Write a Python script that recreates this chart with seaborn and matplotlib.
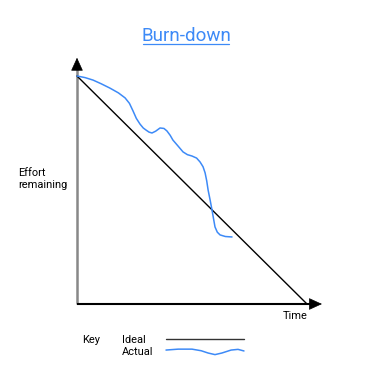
import matplotlib
matplotlib.use("Agg")
import matplotlib.pyplot as plt
import seaborn as sns
import pandas as pd

sns.set_theme(style="white")
plt.rcParams['font.family'] = ['Roboto', 'DejaVu Sans']

# --- data ---
ideal_time = [0, 10]
ideal_effort = [10, 0]

actual_time = [0.0, 0.35, 0.70, 1.05, 1.43, 1.80, 2.09, 2.28, 2.43, 2.58, 2.74, 2.88, 3.0,
               3.13, 3.26, 3.42, 3.61, 3.78, 3.91, 4.05, 4.17, 4.40, 4.61, 4.80, 5.0,
               5.20, 5.35, 5.48, 5.57, 5.64, 5.70, 5.79, 5.87, 5.94, 6.0, 6.10, 6.22,
               6.45, 6.74]
actual_effort = [10.0, 9.93, 9.82, 9.66, 9.47, 9.26, 9.04, 8.80, 8.48, 8.14, 7.89, 7.72, 7.63,
                 7.54, 7.50, 7.58, 7.72, 7.70, 7.59, 7.40, 7.19, 6.92, 6.67, 6.55, 6.49,
                 6.40, 6.23, 6.02, 5.75, 5.40, 5.0, 4.55, 4.12, 3.72, 3.38, 3.15, 3.03,
                 2.96, 2.94]

key_ideal_x = [3.87, 7.26]
key_ideal_y = [-1.53, -1.53]
key_actual_x = [3.87, 4.40, 5.0, 5.40, 5.70, 6.0, 6.30, 6.70, 7.0, 7.26]
key_actual_y = [-2.02, -1.98, -1.98, -2.05, -2.15, -2.22, -2.15, -2.02, -1.99, -2.06]

title = "Burn-down"
y_label = "Effort\nremaining"
x_label = "Time"

BLUE = "#3d8af7"

W, H = 367, 382
fig = plt.figure(figsize=(W / 100, H / 100), dpi=100)
ax = fig.add_axes([77 / W, (H - 304) / H, 230 / W, 228 / H])
ax.set_xlim(0, 10)
ax.set_ylim(0, 10)
for s in ax.spines.values():
    s.set_visible(False)
ax.set_xticks([])
ax.set_yticks([])
ax.set_facecolor("white")
fig.patch.set_facecolor("white")

# axes: grey vertical line, black horizontal
ax.plot([0, 0], [0, 10.40], color="#888888", lw=1.8, clip_on=False, solid_capstyle="butt")
ax.plot([0, 10.25], [0, 0], color="black", lw=1.5, clip_on=False, solid_capstyle="butt")
ax.annotate("", xy=(0, 10.80), xytext=(0, 10.38), xycoords="data",
            arrowprops=dict(arrowstyle="-|>,head_length=0.7,head_width=0.32", color="black", lw=0.5,
                            shrinkA=0, shrinkB=0), annotation_clip=False)
ax.annotate("", xy=(10.65, 0), xytext=(10.2, 0), xycoords="data",
            arrowprops=dict(arrowstyle="-|>,head_length=0.7,head_width=0.32", color="black", lw=0.5,
                            shrinkA=0, shrinkB=0), annotation_clip=False)

ideal_df = pd.DataFrame({"t": ideal_time, "e": ideal_effort})
actual_df = pd.DataFrame({"t": actual_time, "e": actual_effort})
sns.lineplot(data=ideal_df, x="t", y="e", ax=ax, color="black", linewidth=1.0, sort=False, clip_on=False)
sns.lineplot(data=actual_df, x="t", y="e", ax=ax, color=BLUE, linewidth=1.1, sort=False, clip_on=False)

# labels
fig.text(186 / W, 1 - 36 / H, title, ha="center", va="center", fontsize=13.5, color=BLUE)
fig.add_artist(plt.Line2D([143 / W, 229 / W], [1 - 43.5 / H, 1 - 43.5 / H], color=BLUE, lw=0.9))
fig.text(18 / W, 1 - 179 / H, y_label, ha="left", va="center", fontsize=7.9, color="black", linespacing=1.15)
fig.text(295 / W, 1 - 316 / H, x_label, ha="center", va="center", fontsize=7.9, color="black")
fig.text(82 / W, 1 - 340 / H, "Key", ha="left", va="center", fontsize=7.9, color="black")
fig.text(122 / W, 1 - 340 / H, "Ideal", ha="left", va="center", fontsize=7.9, color="black")
fig.text(122 / W, 1 - 352 / H, "Actual", ha="left", va="center", fontsize=7.9, color="black")

ax.plot(key_ideal_x, key_ideal_y, color="#333333", lw=1.0, clip_on=False)
ax.plot(key_actual_x, key_actual_y, color=BLUE, lw=1.1, clip_on=False)

fig.savefig("out.png", dpi=100, facecolor="white")
